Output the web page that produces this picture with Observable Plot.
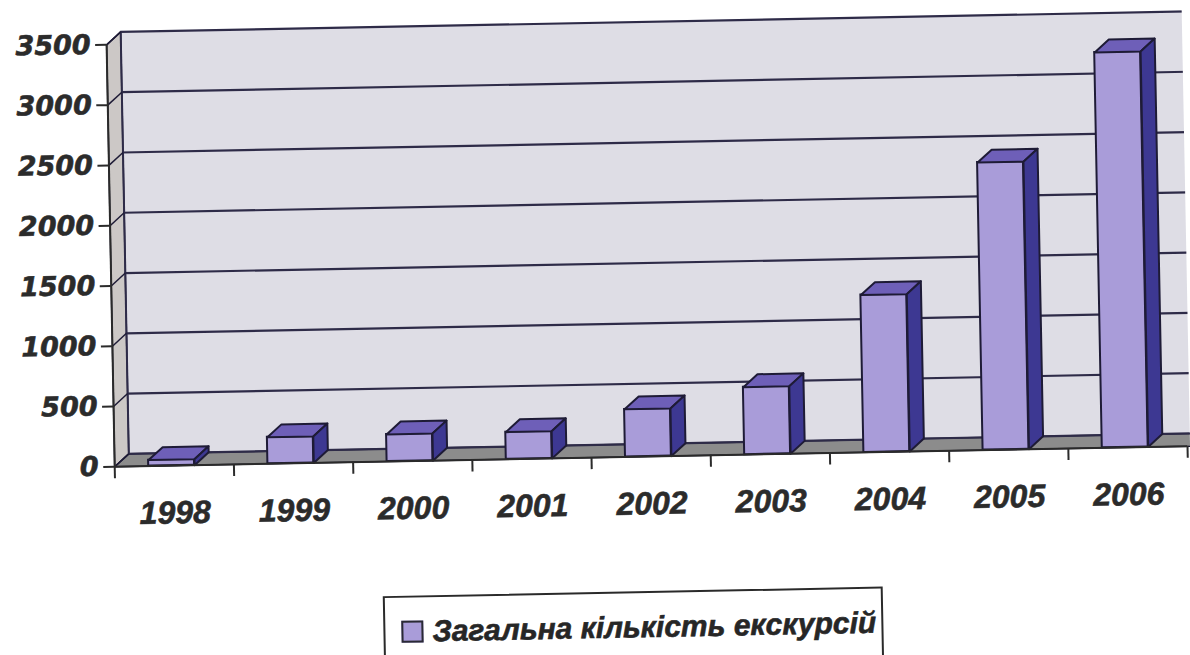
<!DOCTYPE html>
<html><head><meta charset="utf-8">
<script src="https://cdn.jsdelivr.net/npm/d3@7"></script>
<script src="https://cdn.jsdelivr.net/npm/@observablehq/plot@0.6"></script>
<style>
html,body{margin:0;padding:0;background:#fff;overflow:hidden;width:1190px;height:655px}
#wrap{position:relative;width:1190px;height:655px;transform:rotate(-1.1deg);transform-origin:650px 450px}
#chart{position:absolute;left:0;top:0}
#chart svg text{paint-order:stroke;stroke:#2b2b2b;stroke-width:0.6px}
#legend{position:absolute;left:380px;top:591px;width:500px;height:100px;border:2px solid #2a2a2a;box-sizing:border-box;background:#fff}
#legend .sw{position:absolute;left:16px;top:23px;width:18px;height:18px;background:#a99cd9;border:2px solid #2a2a35}
#legend .lb{position:absolute;left:47px;top:17px;line-height:36px;font:italic bold 30px "Liberation Sans",Arial,sans-serif;color:#262626;white-space:nowrap;-webkit-text-stroke:0.6px #262626}
</style>
</head><body>
<div id="wrap"><div id="chart"></div><div id="legend"><div class="sw"></div><div class="lb"></div></div></div>
<script>
// ---- data ----
const years = [1998, 1999, 2000, 2001, 2002, 2003, 2004, 2005, 2006];
const values = [50, 220, 225, 225, 395, 560, 1305, 2385, 3280];
const yTicks = [0, 500, 1000, 1500, 2000, 2500, 3000, 3500];
const seriesName = "Загальна кількість екскурсій";

// ---- styling constants ----
const D = 0.12, DV = 105;            // 3-D depth (x in years, y in value units)
const cFront = "#a99cd9", cTop = "#6e5fb8", cSide = "#3d3892", cEdge = "#1e1b36";
const cWall = "#dedde5", cSideWall = "#ccc8c6", cFloor = "#8c8c8c", cGrid = "#2e2b48";

const xMin = years[0] - 0.5, xMax = years[years.length - 1] + 0.5;
const yMax = yTicks[yTicks.length - 1];
const bars = years.map((year, i) => ({year, value: values[i], x1: year - 0.215, x2: year + 0.17}));
const poly = (pts, id) => pts.map(([x, y]) => ({id, x, y}));
const topFaces = bars.flatMap((b, i) => poly([[b.x1, b.value], [b.x2, b.value], [b.x2 + D, b.value + DV], [b.x1 + D, b.value + DV], [b.x1, b.value]], i));
const sideFaces = bars.flatMap((b, i) => poly([[b.x2, 0], [b.x2, b.value], [b.x2 + D, b.value + DV], [b.x2 + D, DV], [b.x2, 0]], i));
const sideWall = poly([[xMin, 0], [xMin, yMax], [xMin + D, yMax + DV], [xMin + D, DV], [xMin, 0]], 0);
const floor = poly([[xMin, 0], [xMax + 1, 0], [xMax + 1 + D, DV], [xMin + D, DV], [xMin, 0]], 0);
const boundaries = [xMin, ...years.map(y => y + 0.5)];

const tickFont = {fontSize: 27, fontWeight: "bold", fontStyle: "oblique", fontFamily: "DejaVu Sans"};
const yearFont = {fontSize: 32, fontWeight: "bold", fontStyle: "italic", fontFamily: "Liberation Sans"};

const chart = Plot.plot({
  width: 1190, height: 545,
  marginLeft: 114, marginRight: 3, marginTop: 34, marginBottom: 89,
  x: {type: "linear", domain: [xMin, xMax]},
  y: {domain: [0, yMax]},
  style: {background: "transparent"},
  marks: [
    Plot.rect([{}], {x1: xMin + D, x2: xMax + 1, y1: DV, y2: yMax + DV, fill: cWall}),
    Plot.line(sideWall, {x: "x", y: "y", z: "id", fill: cSideWall, stroke: cEdge, strokeWidth: 1.5}),
    Plot.line(floor, {x: "x", y: "y", z: "id", fill: cFloor, stroke: cEdge, strokeWidth: 1.5}),
    Plot.ruleY(yTicks, {y: d => d + DV, x1: xMin + D, x2: xMax + 1, stroke: cGrid, strokeWidth: 2.2}),
    Plot.ruleX([xMin + D], {y1: DV, y2: yMax + DV, stroke: cGrid, strokeWidth: 2}),
    Plot.link(yTicks, {x1: xMin, y1: d => d, x2: xMin + D, y2: d => d + DV, stroke: cEdge, strokeWidth: 1.5}),
    Plot.rectY(bars, {x1: "x1", x2: "x2", y1: 0, y2: "value", fill: cFront, stroke: cEdge, strokeWidth: 2}),
    Plot.line(topFaces, {x: "x", y: "y", z: "id", fill: cTop, stroke: cEdge, strokeWidth: 2}),
    Plot.line(sideFaces, {x: "x", y: "y", z: "id", fill: cSide, stroke: cEdge, strokeWidth: 2}),
    Plot.ruleY([0], {stroke: "#2a2a2a", strokeWidth: 2}),
    Plot.ruleX([xMin], {y1: 0, y2: yMax, stroke: "#2a2a2a", strokeWidth: 2}),
    Plot.axisY(yTicks, {tickSize: 11, tickPadding: 5, strokeWidth: 2, color: "#2b2b2b", label: null, tickFormat: d => String(d), ...tickFont}),
    Plot.axisX(boundaries, {tickSize: 12, strokeWidth: 2, color: "#2b2b2b", tickFormat: () => "", label: null}),
    Plot.axisX(years, {tickSize: 0, tickPadding: 35, color: "#2b2b2b", tickFormat: d => String(d), label: null, ...yearFont})
  ]
});
document.getElementById("chart").appendChild(chart);
document.querySelector("#legend .lb").textContent = seriesName;
</script>
</body></html>
